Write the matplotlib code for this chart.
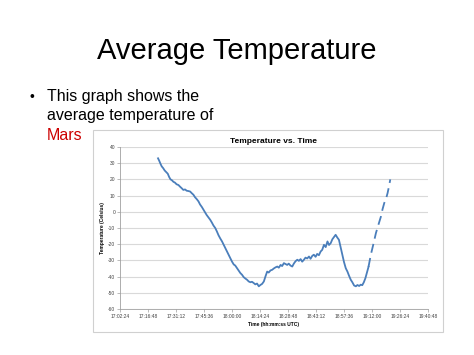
import matplotlib
matplotlib.use('Agg')
import matplotlib.pyplot as plt
from matplotlib.patches import Rectangle

plt.rcParams['font.family'] = ['Liberation Sans', 'DejaVu Sans']

# minutes after 17:00 UTC and temperature (Celsius)
minutes = [22.0, 22.6, 23.3, 23.9, 24.6, 25.4, 26.2, 27.0, 27.7, 28.4, 29.1, 29.9,
           30.7, 31.5, 32.5, 33.3, 34.2, 35.0, 35.9, 36.7, 37.6, 38.5, 39.3, 40.2,
           41.0, 41.9, 42.8, 43.6, 44.5, 45.4, 46.2, 47.0, 47.9, 48.8, 49.6, 50.5,
           51.4, 52.2, 53.1, 54.0, 54.9, 55.8, 56.6, 57.5, 58.3, 59.2, 60.0, 60.9,
           61.7, 62.6, 63.5, 64.3, 65.2, 66.0, 66.9, 67.8, 68.6, 69.5, 70.3, 71.2,
           72.0, 72.9, 73.8, 74.6, 75.5, 76.4, 77.2, 78.1, 78.9, 79.8, 80.7, 81.5,
           82.4, 83.3, 84.1, 85.0, 85.8, 86.7, 87.5, 88.4, 89.2, 90.1, 91.0, 91.8,
           92.7, 93.6, 94.4, 95.3, 96.1, 97.0, 97.8, 98.7, 99.6, 100.4, 101.3, 102.1,
           103.0, 103.8, 104.7, 105.6, 106.4, 107.3, 108.2, 109.1, 109.9, 110.8, 111.6,
           112.5, 113.3, 114.1, 115.0, 115.8, 116.8, 117.6, 118.5, 119.4, 120.2, 121.1,
           121.9, 122.8, 123.7, 124.5, 125.4, 126.2, 127.0, 127.8, 128.6, 129.5, 130.2]
temps = [33, 31.5, 29.5, 28, 27, 25.5, 24.5, 23.5, 21.5, 20, 19.5, 18.5,
         18, 17, 16.5, 15.5, 14.5, 13.5, 13.8, 13, 12.8, 12.5, 11.5, 10.5,
         9, 7.8, 6.4, 4.5, 3, 1.2, -0.5, -2, -3.5, -4.9, -6.5, -8.5,
         -10, -12, -14.5, -16.5, -18.3, -20.5, -22.5, -24.5, -26.5, -28.8, -30.7, -32.5,
         -33.2, -34.8, -36.5, -37.8, -38.9, -40.3, -41.2, -42, -43, -43.5, -43.2, -44,
         -44.8, -44.3, -46, -45.2, -44.5, -43, -40, -36.9, -37.5, -36.2, -35.8, -35,
         -34.3, -33.8, -34.5, -32.8, -33.5, -31.7, -32.2, -32.8, -32, -33.2, -33.8, -32,
         -30.5, -29.6, -30.3, -29.2, -30.8, -29.6, -28.3, -28.8, -27.6, -29, -27.2, -26.5,
         -27.8, -26, -26.8, -24.5, -23.5, -20.4, -21.8, -18.3, -20.5, -19.3, -17,
         -15.5, -14.2, -15.8, -17.3, -21.5, -27, -31, -34.8, -37, -39.5, -42,
         -43.5, -45.5, -46, -45.2, -45.8, -45, -45.3, -43.5, -41, -37, -34]

# sparse readings at the end (drawn dashed)
minutes_end = [130.2, 131.4, 132.7, 134.0, 135.3, 136.6, 137.4, 138.3, 139.2, 140.0, 140.7, 141.4]
temps_end = [-34, -26.5, -20, -13.2, -8, -2.9, 1.5, 5.4, 8, 11.5, 15.5, 20]

tick_minutes = [2.4, 16.8, 31.2, 45.6, 60.0, 74.4, 88.8, 103.2, 117.6, 132.0, 146.4, 160.8]
tick_labels = ['17:02:24', '17:16:48', '17:31:12', '17:45:36', '18:00:00', '18:14:24',
               '18:28:48', '18:43:12', '18:57:36', '19:12:00', '19:26:24', '19:40:48']
y_ticks = list(range(-60, 41, 10))

fig = plt.figure(figsize=(4.74, 3.55), dpi=100)

# slide text
fig.text(0.5, 0.855, 'Average Temperature', ha='center', va='center', fontsize=21)
fig.text(0.068, 0.728, '\u2022', ha='center', va='center', fontsize=10)
fig.text(0.099, 0.728, 'This graph shows the', ha='left', va='center', fontsize=11.5)
fig.text(0.099, 0.675, 'average temperature of', ha='left', va='center', fontsize=11.5)
fig.text(0.099, 0.618, 'Mars', ha='left', va='center', fontsize=11.5, color='#cc0000')

# chart frame, kept behind the axes
fig.patches.append(Rectangle((0.196, 0.065), 0.738, 0.569, transform=fig.transFigure,
                             facecolor='white', edgecolor='#d0d0d0', lw=0.8, zorder=-10))

ax = fig.add_axes([0.253, 0.1296, 0.650, 0.4564])
ax.patch.set_alpha(0)
ax.plot(minutes, temps, color='#4a7ebb', lw=1.3)
ax.plot(minutes_end, temps_end, color='#4a7ebb', lw=1.3, linestyle=(0, (5, 3)))

ax.set_xlim(tick_minutes[0], tick_minutes[-1])
ax.set_ylim(-60, 40)
ax.set_xticks(tick_minutes)
ax.set_xticklabels(tick_labels, fontsize=3.5, color='#404040')
ax.set_yticks(y_ticks)
ax.set_yticklabels([str(v) for v in y_ticks], fontsize=3.5, color='#404040')
ax.tick_params(length=2, width=0.5, color='#a0a0a0', pad=1.5)
ax.grid(axis='y', color='#d9d9d9', lw=0.8)
ax.set_axisbelow(True)
for side in ['top', 'right']:
    ax.spines[side].set_visible(False)
for side in ['left', 'bottom']:
    ax.spines[side].set_color('#a0a0a0')
    ax.spines[side].set_linewidth(0.6)

ax.set_title('Temperature vs. Time', fontsize=6, fontweight='bold', pad=3)
ax.set_xlabel('Time (hh:mm:ss UTC)', fontsize=3.5, fontweight='bold', labelpad=2)
ax.set_ylabel('Temperature (Celsius)', fontsize=3.5, fontweight='bold', labelpad=2)

plt.savefig('out.png', dpi=100)
